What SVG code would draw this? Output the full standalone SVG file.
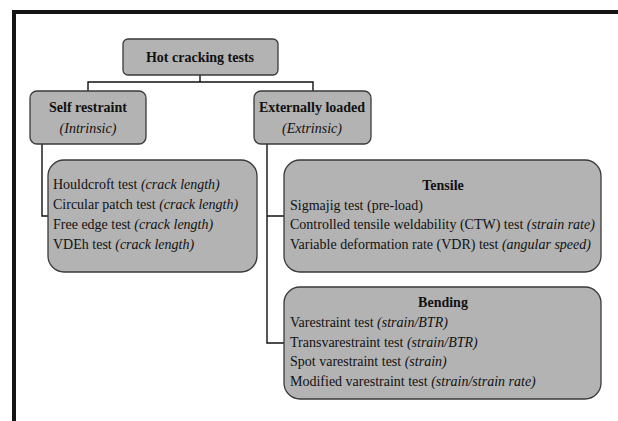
<svg xmlns="http://www.w3.org/2000/svg" width="618" height="421" viewBox="0 0 618 421">
<style>
.box{fill:#b3b3b3;stroke:#3a3a3a;stroke-width:1.3}
text{font-family:'Liberation Serif','Times New Roman',serif;font-size:14px;fill:#111}
.b{font-weight:bold}
.i{font-style:italic}
.c{text-anchor:middle}
.con{fill:none;stroke:#111;stroke-width:1.4}
</style>
<rect width="618" height="421" fill="#fff"/>
<path d="M14,421 V12 H618" fill="none" stroke="#151515" stroke-width="4"/>
<g id="connectors" class="con">
<path d="M200,75 V82 M88,91 V82 H313 V91"/>
<path d="M42,144 V216 H48"/>
<path d="M267,144 V343 H285 M267,216 H285"/>
</g>
<g id="root">
<rect class="box" x="123" y="39" width="155" height="36" rx="5"/>
<text class="b c" x="200" y="62">Hot cracking tests</text>
</g>
<g id="self">
<rect class="box" x="30" y="91" width="116" height="53" rx="7"/>
<text class="b c" x="88" y="112">Self restraint</text>
<text class="i c" x="88" y="133">(Intrinsic)</text>
</g>
<g id="external">
<rect class="box" x="254" y="91" width="117" height="53" rx="7"/>
<text class="b c" x="312" y="112">Externally loaded</text>
<text class="i c" x="312" y="133">(Extrinsic)</text>
</g>
<g id="intrinsic-list">
<rect class="box" x="48" y="160" width="209" height="112" rx="16"/>
<text x="53" y="189">Houldcroft test <tspan class="i">(crack length)</tspan></text>
<text x="53" y="209">Circular patch test <tspan class="i">(crack length)</tspan></text>
<text x="53" y="229">Free edge test <tspan class="i">(crack length)</tspan></text>
<text x="53" y="249">VDEh test <tspan class="i">(crack length)</tspan></text>
</g>
<g id="tensile">
<rect class="box" x="284" y="160" width="317" height="112" rx="16"/>
<text class="b c" x="443" y="190">Tensile</text>
<text x="290" y="210">Sigmajig test (pre-load)</text>
<text x="290" y="229">Controlled tensile weldability (CTW) test <tspan class="i">(strain rate)</tspan></text>
<text x="290" y="249">Variable deformation rate (VDR) test <tspan class="i">(angular speed)</tspan></text>
</g>
<g id="bending">
<rect class="box" x="284" y="287" width="317" height="112" rx="16"/>
<text class="b c" x="443" y="307">Bending</text>
<text x="290" y="327">Varestraint test <tspan class="i">(strain/BTR)</tspan></text>
<text x="290" y="347">Transvarestraint test <tspan class="i">(strain/BTR)</tspan></text>
<text x="290" y="366">Spot varestraint test <tspan class="i">(strain)</tspan></text>
<text x="290" y="386">Modified varestraint test <tspan class="i">(strain/strain rate)</tspan></text>
</g>
</svg>
